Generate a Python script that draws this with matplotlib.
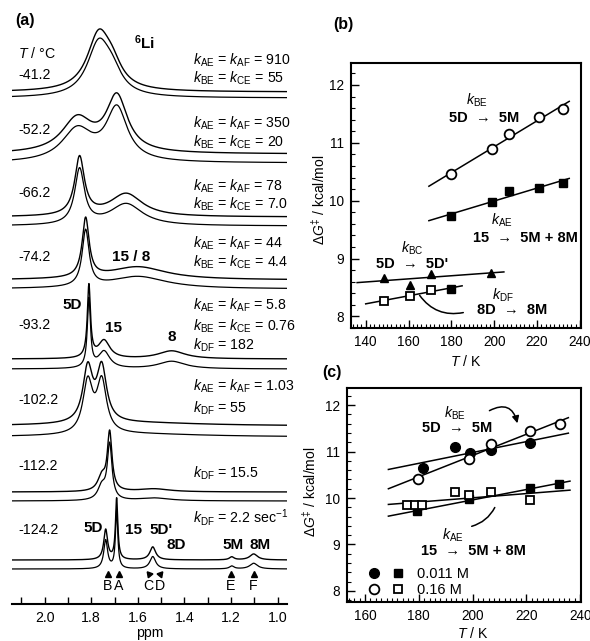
import numpy as np
import matplotlib
matplotlib.use("Agg")
import matplotlib.pyplot as plt
from matplotlib.ticker import MultipleLocator
from matplotlib.legend_handler import HandlerTuple

plt.rcParams["font.family"] = ["Liberation Sans", "DejaVu Sans"]
plt.rcParams["font.size"] = 10.2
plt.rcParams["mathtext.fontset"] = "custom"
plt.rcParams["mathtext.rm"] = "Liberation Sans"
plt.rcParams["mathtext.it"] = "Liberation Sans:italic"
plt.rcParams["mathtext.bf"] = "Liberation Sans:bold"

# ── data: panel (a), 6Li spectra ───────────────────────────────────────────
temps_c = ["-41.2", "-52.2", "-66.2", "-74.2", "-93.2", "-102.2", "-112.2", "-124.2"]

# peaks per spectrum: (ppm, height, half-width in ppm)
peaks = [
    [(1.768, 55, 0.060), (1.710, 18, 0.050)],
    [(1.860, 34, 0.080), (1.690, 55, 0.055)],
    [(1.850, 58, 0.025), (1.650, 23, 0.085)],
    [(1.824, 59, 0.018), (1.600, 13, 0.150)],
    [(1.810, 72, 0.008), (1.745, 18, 0.030), (1.455, 8, 0.070)],
    [(1.815, 54, 0.025), (1.755, 54, 0.025), (1.600, 3, 0.350)],
    [(1.721, 58, 0.012), (1.755, 14, 0.020), (1.530, 3, 0.080)],
    [(1.738, 30, 0.010), (1.691, 61, 0.006), (1.536, 13, 0.015),
     (1.197, 3, 0.012), (1.103, 6, 0.020)],
]

rate_labels = [
    [r"$k_{\rm AE}$ = $k_{\rm AF}$ = 910", r"$k_{\rm BE}$ = $k_{\rm CE}$ = 55"],
    [r"$k_{\rm AE}$ = $k_{\rm AF}$ = 350", r"$k_{\rm BE}$ = $k_{\rm CE}$ = 20"],
    [r"$k_{\rm AE}$ = $k_{\rm AF}$ = 78", r"$k_{\rm BE}$ = $k_{\rm CE}$ = 7.0"],
    [r"$k_{\rm AE}$ = $k_{\rm AF}$ = 44", r"$k_{\rm BE}$ = $k_{\rm CE}$ = 4.4"],
    [r"$k_{\rm AE}$ = $k_{\rm AF}$ = 5.8", r"$k_{\rm BE}$ = $k_{\rm CE}$ = 0.76",
     r"$k_{\rm DF}$ = 182"],
    [r"$k_{\rm AE}$ = $k_{\rm AF}$ = 1.03", r"$k_{\rm DF}$ = 55"],
    [r"$k_{\rm DF}$ = 15.5"],
    [r"$k_{\rm DF}$ = 2.2 sec$^{-1}$"],
]

site_names = ["B", "A", "C", "D", "E", "F"]
site_ppm = [1.730, 1.682, 1.554, 1.506, 1.202, 1.103]

# ── data: panel (b) ───────────────────────────────────────────────────────
T_BE_b = [180, 199, 207, 221, 232]
G_BE_b = [10.46, 10.89, 11.15, 11.45, 11.59]
T_AE_b = [180, 199, 207, 221, 232]
G_AE_b = [9.73, 9.98, 10.17, 10.22, 10.31]
T_BC_b = [148.5, 160.5, 170.7, 198.7]
G_BC_b = [8.66, 8.55, 8.74, 8.75]
T_DF_b = [148.5, 160.5, 170.7]
G_DF_b = [8.27, 8.36, 8.45]
T_DF_b_filled = [180]
G_DF_b_filled = [8.48]

# ── data: panel (c) ───────────────────────────────────────────────────────
T_BE_lo = [181.5, 193.5, 199, 206.9, 221.2]       # 0.011 M
G_BE_lo = [10.64, 11.10, 10.97, 11.03, 11.19]
T_BE_hi = [179.6, 198.7, 206.9, 221.2, 232.5]     # 0.16 M
G_BE_hi = [10.42, 10.85, 11.16, 11.45, 11.59]
T_AE_lo = [179.4, 198.7, 221.2, 232.3]
G_AE_lo = [9.71, 9.97, 10.21, 10.30]
T_AE_hi = [175.6, 178.7, 181.3, 193.5, 198.7, 206.9, 221.2]
G_AE_hi = [9.85, 9.85, 9.85, 10.13, 10.06, 10.14, 9.95]

W, H = 590, 641
fig = plt.figure(figsize=(W / 100, H / 100), dpi=100)


def px_axes(left, top, right, bottom):
    return fig.add_axes([left / W, 1 - bottom / H, (right - left) / W, (bottom - top) / H])


def ftext(x, y, s, ha="center", va="center", size=10.2, **kw):
    fig.text(x / W, 1 - y / H, s, ha=ha, va=va, fontsize=size, **kw)


def fp(x, y):
    return (x, H - y)


# ── Panel (a) ──────────────────────────────────────────────────────────────
ax = px_axes(12, 20, 287, 604)
ppm = np.linspace(2.14, 0.96, 1500)
base_sim = [92, 154, 217, 280, 359, 426, 492, 560]
gap = [6, 9, 9, 9, 10, 11, 9, 9]

for i, pk in enumerate(peaks):
    shape = np.zeros_like(ppm)
    for p0, h, w in pk:
        shape += h / (1 + ((ppm - p0) / w) ** 2)
    ax.plot(ppm, base_sim[i] - shape, color="black", lw=1.0)
    ax.plot(ppm, base_sim[i] + gap[i] - 0.95 * shape, color="black", lw=0.9)

ax.set_xlim(2.14, 0.96)
ax.set_ylim(604, 20)
for s in ["left", "right", "top"]:
    ax.spines[s].set_visible(False)
ax.spines["bottom"].set_linewidth(1.5)
ax.set_yticks([])
ax.set_xticks([2.0, 1.8, 1.6, 1.4, 1.2, 1.0])
ax.set_xticklabels(["2.0", "1.8", "1.6", "1.4", "1.2", "1.0"])
ax.xaxis.set_minor_locator(MultipleLocator(0.1))
ax.tick_params(axis="x", which="both", direction="in", length=5, width=1.0, pad=5)
ax.set_xlabel("ppm", labelpad=1)

# site markers
for name, p in zip(site_names, site_ppm):
    m = {"C": (3, 0, 40), "D": (3, 0, -40)}.get(name, "^")
    ax.plot([p], [574], marker=m, color="black", ms=5, ls="none")
    ax.text(p, 586, name, ha="center", va="center", fontsize=10.2)

ftext(25, 20, "(a)", size=11.5, weight="bold")
ftext(18, 53, r"$T$ / °C", ha="left")
temp_y = [75, 130, 193, 257, 325, 400, 466, 530]
for t, y in zip(temps_c, temp_y):
    ftext(18, y, t, ha="left")

rate_y = [[60, 78], [123, 142], [186, 204], [243, 262],
          [305, 326, 345], [386, 408], [473], [518]]
for labs, ys in zip(rate_labels, rate_y):
    for s, y in zip(labs, ys):
        ftext(193, y, s, ha="left")

ftext(145, 43, r"$\mathbf{^{6}Li}$", size=11)
bold_labels = [("15 / 8", 131, 257), ("5D", 72, 305), ("15", 113, 328), ("8", 172, 337),
               ("5D", 93, 528), ("15", 133, 530), ("5D'", 161, 530), ("8D", 176, 545),
               ("5M", 233, 545), ("8M", 260, 545)]
for s, x, y in bold_labels:
    ftext(x, y, s, size=11, weight="bold")


def style_frame(ax):
    for s in ax.spines.values():
        s.set_linewidth(1.5)
    ax.yaxis.set_major_locator(MultipleLocator(1))
    ax.yaxis.set_minor_locator(MultipleLocator(0.2))
    ax.xaxis.set_major_locator(MultipleLocator(20))
    ax.xaxis.set_minor_locator(MultipleLocator(2))
    ax.tick_params(which="major", direction="in", length=6, width=1.0, pad=5,
                   labelsize=9.8)
    ax.tick_params(which="minor", direction="in", length=3, width=0.8)
    ax.tick_params(top=False, right=False, which="both")


def fit_line(ax, T, G, t0, t1):
    k, b = np.polyfit(T, G, 1)
    tt = np.array([t0, t1])
    ax.plot(tt, k * tt + b, color="black", lw=1.1)


# ── Panel (b) ──────────────────────────────────────────────────────────────
axb = px_axes(350.7, 63, 581, 328)
fit_line(axb, T_BE_b, G_BE_b, 169.5, 235)
fit_line(axb, T_AE_b, G_AE_b, 169.5, 235)
fit_line(axb, T_BC_b, G_BC_b, 136, 204.5)
fit_line(axb, T_DF_b + T_DF_b_filled, G_DF_b + G_DF_b_filled, 140, 185)
axb.plot(T_BE_b, G_BE_b, "o", mfc="white", mec="black", mew=1.3, ms=7)
axb.plot(T_AE_b, G_AE_b, "s", mfc="black", mec="black", ms=6)
axb.plot(T_BC_b, G_BC_b, "^", mfc="black", mec="black", ms=6)
axb.plot(T_DF_b, G_DF_b, "s", mfc="white", mec="black", mew=1.3, ms=6)
axb.plot(T_DF_b_filled, G_DF_b_filled, "s", mfc="black", mec="black", ms=6)
axb.set_xlim(133, 240.5)
axb.set_ylim(7.8, 12.38)
style_frame(axb)
axb.set_xlabel(r"$T$ / K")
axb.xaxis.set_label_coords(0.5, -0.098)
axb.set_ylabel(r"$\Delta G^{\ddagger}$ / kcal/mol", fontsize=10)
axb.yaxis.set_label_coords(-0.10, 0.483)

ftext(343, 25, "(b)", size=11.5, weight="bold")
ftext(477, 100, r"$k_{\rm BE}$")
ftext(484, 118, "5D  →  5M", weight="bold", size=10.5)
ftext(502, 220, r"$k_{\rm AE}$")
ftext(525, 238, "15  →  5M + 8M", weight="bold", size=10.5)
ftext(412, 248, r"$k_{\rm BC}$")
ftext(412, 264, "5D  →  5D'", weight="bold", size=10.5)
ftext(503, 295, r"$k_{\rm DF}$")
ftext(512, 310, "8D  →  8M", weight="bold", size=10.5)
axb.annotate("", xy=fp(466, 312), xycoords="figure pixels",
             xytext=fp(418, 293), textcoords="figure pixels",
             arrowprops=dict(arrowstyle="-", lw=1.1, color="black",
                             connectionstyle="arc3,rad=0.35"))

# ── Panel (c) ──────────────────────────────────────────────────────────────
axc = px_axes(346.7, 388, 581, 602)
fit_line(axc, T_BE_lo, G_BE_lo, 168.7, 235.6)
fit_line(axc, T_BE_hi, G_BE_hi, 168.7, 235.6)
fit_line(axc, T_AE_lo, G_AE_lo, 168.7, 236.2)
fit_line(axc, T_AE_hi, G_AE_hi, 168.7, 236.2)
h1, = axc.plot(T_BE_lo, G_BE_lo, "o", mfc="black", mec="black", ms=7)
h2, = axc.plot(T_BE_hi, G_BE_hi, "o", mfc="white", mec="black", mew=1.3, ms=7)
h3, = axc.plot(T_AE_lo, G_AE_lo, "s", mfc="black", mec="black", ms=6)
h4, = axc.plot(T_AE_hi, G_AE_hi, "s", mfc="white", mec="black", mew=1.3, ms=6)
axc.set_xlim(153.2, 240.3)
axc.set_ylim(7.76, 12.37)
style_frame(axc)
axc.set_xlabel(r"$T$ / K")
axc.xaxis.set_label_coords(0.539, -0.112)
axc.set_ylabel(r"$\Delta G^{\ddagger}$ / kcal/mol", fontsize=10)
axc.yaxis.set_label_coords(-0.12, 0.514)
axc.legend([(h1, h3), (h2, h4)], ["0.011 M", "0.16 M"],
           handler_map={tuple: HandlerTuple(ndivide=None, pad=0.9)},
           loc="lower left", bbox_to_anchor=(0.05, -0.025), frameon=False,
           handlelength=2.4, handletextpad=0.9, labelspacing=0.15, fontsize=10.5,
           borderaxespad=0.3)

ftext(332, 372, "(c)", size=11.5, weight="bold")
ftext(455, 413, r"$k_{\rm BE}$")
ftext(457, 428, "5D  →  5M", weight="bold", size=10.5)
ftext(453, 535, r"$k_{\rm AE}$")
ftext(473, 551, "15  →  5M + 8M", weight="bold", size=10.5)
axc.annotate("", xy=fp(518, 426), xycoords="figure pixels",
             xytext=fp(487, 412), textcoords="figure pixels",
             arrowprops=dict(arrowstyle="-|>,head_length=0.4,head_width=0.2", lw=1.1,
                             color="black", connectionstyle="arc3,rad=-0.7"))
axc.annotate("", xy=fp(496, 505), xycoords="figure pixels",
             xytext=fp(469, 527), textcoords="figure pixels",
             arrowprops=dict(arrowstyle="-", lw=1.1, color="black",
                             connectionstyle="arc3,rad=0.25"))

fig.savefig("out.png", dpi=100)
